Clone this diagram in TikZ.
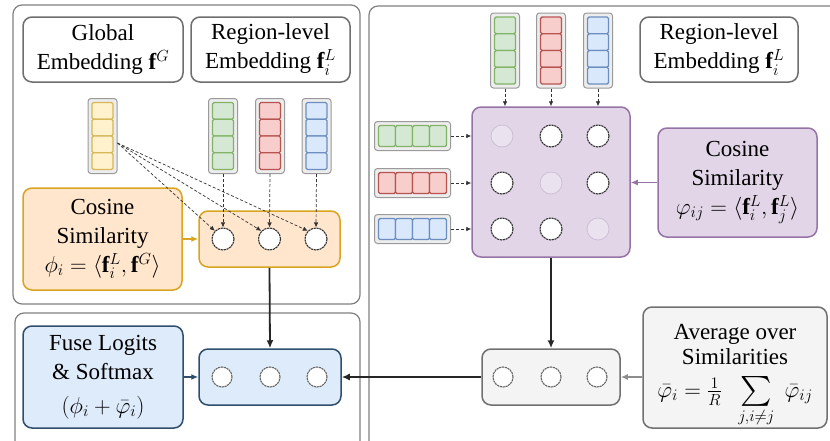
\RequirePackage{fix-cm}
\documentclass[tikz,border=0pt]{standalone}
\usepackage{amsmath}
\usepackage{exscale}
\usepackage{graphicx}
\usepackage{fontspec}
\setmainfont{Liberation Serif}
\newfontfamily\figfont{Liberation Serif}
\usetikzlibrary{arrows.meta,calc}

\definecolor{panelgray}{HTML}{808080}
\definecolor{labgray}{HTML}{6E6E6E}
\definecolor{vecfill}{HTML}{EDEDED}
\definecolor{vecdraw}{HTML}{9A9A9A}
\definecolor{ylwfill}{HTML}{FFF2CC}
\definecolor{ylwdraw}{HTML}{D6B656}
\definecolor{grnfill}{HTML}{D5E8D4}
\definecolor{grndraw}{HTML}{82B366}
\definecolor{redfill}{HTML}{F8CECC}
\definecolor{reddraw}{HTML}{B85450}
\definecolor{blufill}{HTML}{DAE8FC}
\definecolor{bludraw}{HTML}{6C8EBF}
\definecolor{orgfill}{HTML}{FFE6CC}
\definecolor{orgdraw}{HTML}{D9A420}
\definecolor{purfill}{HTML}{E1D5E7}
\definecolor{purdraw}{HTML}{9673A6}
\definecolor{ghostfill}{HTML}{EBE2F0}
\definecolor{ghostdraw}{HTML}{CDBFD6}
\definecolor{fusefill}{HTML}{DEEBFA}
\definecolor{fusedraw}{HTML}{2F4E6B}
\definecolor{avgfill}{HTML}{F4F4F4}
\definecolor{avgdraw}{HTML}{707070}

% vertical embedding vector: name, x, y, cell fill, cell border
\newcommand\embV[5]{%
  \node[vecbox, minimum width=29pt, minimum height=75pt] (#1) at (#2,#3) {};
  \foreach \k in {0,...,3}
    \draw[cell, fill=#4, draw=#5] ($(#1.center)+(-10.5,-33.5+\k*16.75)$) rectangle ++(21,16.75);
}
% horizontal embedding vector
\newcommand\embH[5]{%
  \node[vecbox, minimum width=76pt, minimum height=29pt] (#1) at (#2,#3) {};
  \foreach \k in {0,...,3}
    \draw[cell, fill=#4, draw=#5] ($(#1.center)+(-34+\k*17,-10.5)$) rectangle ++(17,21);
}
% a sum sign somewhat larger than the inline one
\newcommand\midsum{\mathop{\vcenter{\hbox{\scalebox{1.2}{$\textstyle\sum$}}}}\limits}

\begin{document}
\begin{tikzpicture}[x=1pt,y=-1pt,
  font=\figfont\fontsize{23}{29}\selectfont,
  panel/.style={draw=panelgray, line width=1.2pt, rounded corners=9pt},
  box/.style={rounded corners=9pt, line width=1.5pt, align=center, inner sep=0pt},
  labelbox/.style={box, draw=labgray, fill=white, minimum height=65pt},
  vecbox/.style={draw=vecdraw, fill=vecfill, rounded corners=3pt, line width=1pt, inner sep=0pt},
  cell/.style={rounded corners=1.5pt, line width=1.4pt},
  simdot/.style={circle, minimum size=22pt, inner sep=0pt, fill=white, draw=black!80,
    line width=1.1pt, dash pattern=on 2.2pt off 0.7pt},
  smalldot/.style={simdot, minimum size=20pt, draw=black!60},
  simghost/.style={circle, minimum size=22pt, inner sep=0pt, fill=ghostfill, draw=ghostdraw, line width=0.8pt},
  feed/.style={densely dashed, line width=0.7pt, draw=black!80, -{Latex[length=5pt,width=4.5pt]}},
  flow/.style={line width=1.8pt, draw=black!85, -{Latex[length=8pt,width=7pt]}},
]
\useasboundingbox (0,0) rectangle (830,440);

% outer panels
\begin{scope}
  \clip (0,0) rectangle (830,440);
  \draw[panel] (13,5) rectangle (360,304);
  \draw[panel] (15,313) rectangle (360,460);
  \draw[panel] (369,6) rectangle (850,460);
\end{scope}

% ---- global / region similarity ----
\node[labelbox, minimum width=160pt] (glob) at (103,49.5) {Global\\Embedding $\mathbf{f}^G$};
\node[labelbox, minimum width=159pt] (regA) at (270.5,49.5) {Region-level\\Embedding $\mathbf{f}_i^L$};

\embV{gy}{102.5}{136}{ylwfill}{ylwdraw}
\embV{ga}{223}{136}{grnfill}{grndraw}
\embV{ra}{270}{136}{redfill}{reddraw}
\embV{ba}{316.5}{136}{blufill}{bludraw}

\node[box, draw=orgdraw, fill=orgfill, minimum width=159pt, minimum height=102pt] (ocos) at (102.5,239)
  {Cosine\\Similarity\\$\phi_i=\langle\mathbf{f}_i^L,\mathbf{f}^G\rangle$};
\node[box, draw=orgdraw, fill=orgfill, minimum width=141pt, minimum height=56pt] (obox) at (269.5,239) {};
\node[simdot] (o1) at (223,239) {};
\node[simdot] (o2) at (269.5,239) {};
\node[simdot] (o3) at (316,239) {};

\draw[line width=1.5pt, draw=orgdraw, -{Latex[length=7pt,width=6pt]}] (ocos) -- (obox);
\foreach \t in {o1,o2,o3}
  \draw[feed] ($(gy.east)+(0,7)$) -- (\t.north west);
\draw[feed] (ga.south) -- (o1.north);
\draw[feed] (ra.south) -- (o2.north);
\draw[feed] (ba.south) -- (o3.north);

% ---- region / region similarity ----
\node[labelbox, minimum width=158pt] (regB) at (719,49.5) {Region-level\\Embedding $\mathbf{f}_i^L$};

\embV{gt}{505}{50.5}{grnfill}{grndraw}
\embV{rt}{551}{50.5}{redfill}{reddraw}
\embV{bt}{598}{50.5}{blufill}{bludraw}
\embH{gl}{412.5}{136}{grnfill}{grndraw}
\embH{rl}{412.5}{183}{redfill}{reddraw}
\embH{bl}{412.5}{229}{blufill}{bludraw}

\node[box, draw=purdraw, fill=purfill, minimum width=158pt, minimum height=150pt] (pbox) at (551,182) {};
\node[simghost] (p11) at (502,136) {};
\node[simdot]   (p12) at (551,136) {};
\node[simdot]   (p13) at (598,136) {};
\node[simdot]   (p21) at (502,183) {};
\node[simghost] (p22) at (551,183) {};
\node[simdot]   (p23) at (598,183) {};
\node[simdot]   (p31) at (502,229) {};
\node[simdot]   (p32) at (551,229) {};
\node[simghost] (p33) at (598,229) {};

\node[box, draw=purdraw, fill=purfill, minimum width=159pt, minimum height=109pt] (pcos) at (737.5,182.5)
  {Cosine\\Similarity\\$\varphi_{ij}=\langle\mathbf{f}_i^L,\mathbf{f}_j^L\rangle$};
\draw[line width=1.5pt, draw=purdraw, -{Latex[length=7pt,width=6pt]}] (pcos) -- (pcos -| pbox.east);

\foreach \v in {gt,rt,bt}
  \draw[feed] (\v.south) -- (\v.south |- pbox.north);
\foreach \v in {gl,rl,bl}
  \draw[feed] (\v.east) -- (\v.east -| pbox.west);

% ---- fusion ----
\node[box, draw=fusedraw, fill=fusefill, minimum width=160pt, minimum height=102pt] (fuse) at (103,377)
  {Fuse Logits\\\& Softmax\\[5pt]$(\phi_i+\bar{\varphi}_i)$};
\node[box, draw=fusedraw, fill=fusefill, minimum width=142pt, minimum height=56pt] (bbox) at (270,377) {};
\node[smalldot] (b1) at (222,377) {};
\node[smalldot] (b2) at (270,377) {};
\node[smalldot] (b3) at (317,377) {};

\node[box, draw=avgdraw, fill=avgfill, minimum width=138pt, minimum height=56pt] (gbox) at (551,377) {};
\node[smalldot] (g1) at (503,377) {};
\node[smalldot] (g2) at (551,377) {};
\node[smalldot] (g3) at (597,377) {};

\node[box, draw=avgdraw, fill=avgfill, minimum width=184pt, minimum height=121pt] (avg) at (735,367.5)
  {\rule{0pt}{32pt}Average over\\[-4pt]Similarities\\[4pt]$\bar{\varphi}_i=\tfrac{1}{R}\;\;\midsum_{j,i\neq j}\;\bar{\varphi}_{ij}$};

\draw[line width=1.5pt, draw=fusedraw, -{Latex[length=7pt,width=6pt]}] (fuse.east |- bbox) -- (bbox.west);
\draw[line width=1.5pt, draw=avgdraw!80, -{Latex[length=7pt,width=6pt]}] (avg.west |- gbox) -- (gbox.east);
\draw[flow] (obox.south) -- (bbox.north);
\draw[flow] (pbox.south) -- (gbox.north);
\draw[flow] (gbox.west) -- (bbox.east);
\end{tikzpicture}
\end{document}
